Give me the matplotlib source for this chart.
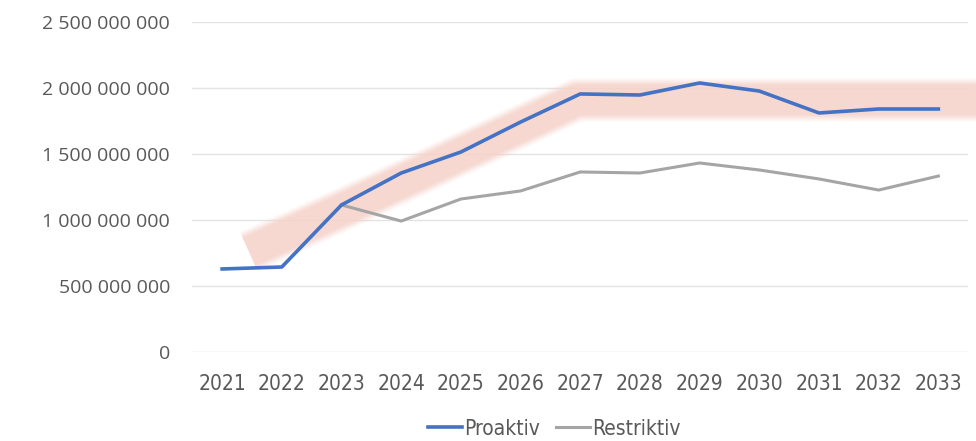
import numpy as np
import matplotlib.pyplot as plt
from matplotlib.ticker import FuncFormatter

years = ['2021', '2022', '2023', '2024', '2025', '2026', '2027',
         '2028', '2029', '2030', '2031', '2032', '2033']
proaktiv = [629e6, 644e6, 1114e6, 1356e6, 1515e6, 1742e6, 1955e6,
            1947e6, 2038e6, 1977e6, 1811e6, 1841e6, 1841e6]
# restriktiv starts where the two scenarios split (2023)
restriktiv = [np.nan, np.nan, 1114e6, 992e6, 1159e6, 1220e6, 1364e6,
              1356e6, 1432e6, 1379e6, 1311e6, 1227e6, 1333e6]
# hand drawn highlight band (x as category position, y value)
band_x = [0.45, 2.0, 5.95, 12.95]
band_y = [760e6, 1076e6, 1910e6, 1910e6]

plt.rcParams['font.family'] = ['Open Sans', 'DejaVu Sans']
grey_txt = '#595959'

fig = plt.figure(figsize=(9.76, 4.41), dpi=100)
ax = fig.add_axes([0.197, 0.2018, 0.795, 0.7483])

x = np.arange(len(years))

# soft pink band, layered to fake blurred edges
for lw, a in [(31, 0.18), (28, 0.28), (25, 0.42), (22, 0.55)]:
    ax.plot(band_x, band_y, color='#f6d2c8', lw=lw, alpha=a,
            solid_capstyle='butt', solid_joinstyle='round', clip_on=False, zorder=1)

ax.plot(x, restriktiv, color='#a5a5a5', lw=2.2, label='Restriktiv', zorder=3)
ax.plot(x, proaktiv, color='#4472c4', lw=2.6, label='Proaktiv', zorder=4)

ax.set_xlim(-0.5, len(years) - 0.5)
ax.set_ylim(0, 2.5e9)
ax.set_yticks(np.arange(0, 2.5e9 + 1, 5e8))
ax.yaxis.set_major_formatter(FuncFormatter(lambda v, p: f'{int(v):,}'.replace(',', ' ')))
ax.set_xticks(x)
ax.set_xticklabels(years)

ax.grid(axis='y', color='#e3e3e3', lw=1)
ax.set_axisbelow(True)
for s in ax.spines.values():
    s.set_visible(False)
ax.tick_params(length=0, colors=grey_txt, labelsize=14)
ax.tick_params(axis='y', pad=16)
ax.tick_params(axis='x', pad=16)
for lab in ax.get_xticklabels():
    lab.set_fontfamily('DejaVu Sans')
    lab.set_fontstretch('condensed')
    lab.set_fontsize(15)

h, l = ax.get_legend_handles_labels()
leg = fig.legend(h[::-1], l[::-1], loc='center', bbox_to_anchor=(0.568, 0.028),
                 ncol=2, frameon=False, handlelength=1.6,
                 handletextpad=0.1, columnspacing=0.8,
                 prop={'family': 'DejaVu Sans', 'stretch': 'condensed', 'size': 15})
for t in leg.get_texts():
    t.set_color(grey_txt)

fig.savefig('out.png', dpi=100)
